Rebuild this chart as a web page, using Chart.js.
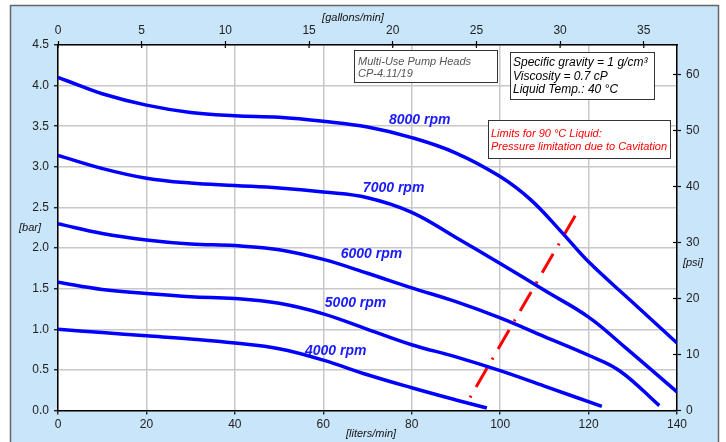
<!DOCTYPE html>
<html>
<head>
<meta charset="utf-8">
<script src="https://cdn.jsdelivr.net/npm/chart.js@4.4.1/dist/chart.umd.min.js"></script>
<style>
  html, body { margin: 0; padding: 0; background: #fff; }
  #wrap { width: 726px; height: 442px; }
</style>
</head>
<body>
<div id="wrap"><canvas id="pump" width="726" height="442"></canvas></div>
<script>
// flow in liters/min, head in bar
const flow8000 = [0, 2, 10, 20, 30, 40, 50, 60, 70, 80, 90, 100, 107, 114, 120, 130, 140];
const head8000 = [4.10, 4.06, 3.90, 3.76, 3.67, 3.63, 3.61, 3.56, 3.49, 3.36, 3.17, 2.88, 2.59, 2.19, 1.83, 1.33, 0.83];
const flow7000 = [0, 10, 20, 30, 40, 50, 60, 70, 80, 90, 100, 110, 120, 128, 140];
const head7000 = [3.14, 2.98, 2.86, 2.80, 2.77, 2.74, 2.69, 2.62, 2.44, 2.13, 1.81, 1.48, 1.15, 0.79, 0.23];
const flow6000 = [0, 10, 20, 30, 40, 50, 60, 70, 80, 90, 100, 110, 120, 127, 136];
const head6000 = [2.30, 2.18, 2.10, 2.05, 2.03, 1.98, 1.86, 1.69, 1.51, 1.34, 1.14, 0.91, 0.68, 0.49, 0.06];
const flow5000 = [0, 10, 20, 30, 40, 50, 60, 70, 80, 90, 100, 110, 123];
const head5000 = [1.58, 1.49, 1.44, 1.40, 1.38, 1.32, 1.19, 1.00, 0.81, 0.66, 0.49, 0.30, 0.05];
const flow4000 = [0, 10, 20, 30, 40, 50, 60, 70, 80, 90, 97];
const head4000 = [1.00, 0.96, 0.92, 0.88, 0.83, 0.76, 0.62, 0.44, 0.28, 0.13, 0.03];

// cavitation limit line for 90 °C liquid
const limitFlow = [93.2, 117.2];
const limitHead = [0.16, 2.42];

const speedLabels = ['8000 rpm', '7000 rpm', '6000 rpm', '5000 rpm', '4000 rpm'];
// where each speed label sits (flow, head)
const labelFlow = [81.8, 75.9, 70.9, 67.3, 62.8];
const labelHead = [3.57, 2.74, 1.92, 1.32, 0.725];

const literTicks = [0, 20, 40, 60, 80, 100, 120, 140];
const barTicks = [0, 0.5, 1, 1.5, 2, 2.5, 3, 3.5, 4, 4.5];
const gallonTicks = [0, 5, 10, 15, 20, 25, 30, 35];
const psiTicks = [0, 10, 20, 30, 40, 50, 60];

const L_PER_GAL = 3.78541;
const PSI_PER_BAR = 14.5038;

const pts = (xs, ys) => xs.map((x, i) => ({ x: x, y: ys[i] }));
const BLUE = '#0000ff';
const tickFont = { family: '"Liberation Sans", Arial, sans-serif', size: 12 };

function curve(xs, ys) {
  return {
    data: pts(xs, ys),
    borderColor: BLUE,
    borderWidth: 3.5,
    tension: 0.4,
    pointRadius: 0,
    fill: false,
    xAxisID: 'x',
    yAxisID: 'y'
  };
}

const frame = {
  id: 'frame',
  beforeDraw(chart) {
    const ctx = chart.ctx, a = chart.chartArea;
    ctx.save();
    ctx.fillStyle = '#fff';
    ctx.fillRect(0, 0, chart.width, chart.height);
    ctx.fillStyle = '#c9e5f9';
    ctx.fillRect(10, 5, 708, 450);
    ctx.strokeStyle = '#666';
    ctx.lineWidth = 1.5;
    ctx.strokeRect(10.5, 5.5, 708, 450);
    ctx.fillStyle = '#fff';
    ctx.fillRect(a.left, a.top, a.right - a.left, a.bottom - a.top);
    ctx.restore();
  },
  afterDraw(chart) {
    const ctx = chart.ctx, a = chart.chartArea;
    const x = chart.scales.x, y = chart.scales.y;
    const x2 = chart.scales.x2, y2 = chart.scales.y2;
    ctx.save();
    // inner halves of the top and right tick marks
    ctx.strokeStyle = '#000';
    ctx.lineWidth = 1.2;
    gallonTicks.forEach(v => {
      const px = x2.getPixelForValue(v);
      ctx.beginPath(); ctx.moveTo(px, a.top); ctx.lineTo(px, a.top + 3); ctx.stroke();
    });
    psiTicks.forEach(v => {
      const py = y2.getPixelForValue(v);
      ctx.beginPath(); ctx.moveTo(a.right, py); ctx.lineTo(a.right - 4, py); ctx.stroke();
    });

    // speed labels
    ctx.fillStyle = '#1a1aff';
    ctx.font = 'italic bold 14px "Liberation Sans", Arial, sans-serif';
    ctx.textAlign = 'center';
    ctx.textBaseline = 'middle';
    speedLabels.forEach((t, i) => {
      ctx.fillText(t, x.getPixelForValue(labelFlow[i]), y.getPixelForValue(labelHead[i]));
    });

    // axis titles
    ctx.fillStyle = '#111';
    ctx.font = 'italic 11px "Liberation Sans", Arial, sans-serif';
    ctx.fillText('[gallons/min]', 353, 18);
    ctx.fillText('[liters/min]', 371, 434);
    ctx.fillText('[bar]', 30, 228);
    ctx.fillText('[psi]', 693, 263);

    // note boxes
    function box(l, t, r, b) {
      ctx.fillStyle = '#777';
      ctx.fillRect(l + 1, t + 1, r - l, b - t);
      ctx.fillStyle = '#fff';
      ctx.fillRect(l, t, r - l, b - t);
      ctx.strokeStyle = '#333';
      ctx.lineWidth = 1;
      ctx.strokeRect(l + 0.5, t + 0.5, r - l, b - t);
    }
    ctx.textAlign = 'left';
    box(354, 50, 497, 82);
    ctx.fillStyle = '#555';
    ctx.font = 'italic 11px "Liberation Sans", Arial, sans-serif';
    ctx.fillText('Multi-Use Pump Heads', 358, 61.5);
    ctx.fillText('CP-4.11/19', 358, 73.5);

    box(510, 52, 654, 99);
    ctx.fillStyle = '#000';
    ctx.font = 'italic 12px "Liberation Sans", Arial, sans-serif';
    ctx.fillText('Specific gravity = 1 g/cm\u00b3', 513, 63);
    ctx.fillText('Viscosity = 0.7 cP', 513, 76.5);
    ctx.fillText('Liquid Temp.: 40 \u00b0C', 513, 90);

    box(488, 120, 670, 158);
    ctx.fillStyle = '#ff0000';
    ctx.font = 'italic 11px "Liberation Sans", Arial, sans-serif';
    ctx.fillText('Limits for 90 \u00b0C Liquid:', 491, 133.5);
    ctx.fillText('Pressure limitation due to Cavitation', 491, 147);
    ctx.restore();
  }
};

new Chart(document.getElementById('pump'), {
  type: 'line',
  data: {
    datasets: [
      curve(flow8000, head8000),
      curve(flow7000, head7000),
      curve(flow6000, head6000),
      curve(flow5000, head5000),
      curve(flow4000, head4000),
      {
        data: pts(limitFlow, limitHead),
        borderColor: '#ff0000',
        borderWidth: 3,
        borderDash: [2, 10, 22, 10],
        pointRadius: 0,
        fill: false,
        xAxisID: 'x',
        yAxisID: 'y'
      }
    ]
  },
  options: {
    responsive: false,
    animation: false,
    layout: { padding: 0 },
    plugins: { legend: { display: false }, tooltip: { enabled: false } },
    scales: {
      x: {
        type: 'linear', position: 'bottom', min: 0, max: 140,
        afterBuildTicks: s => { s.ticks = literTicks.map(v => ({ value: v })); },
        ticks: { color: '#222', font: tickFont, padding: 3, maxRotation: 0 },
        grid: { color: '#c8c8c8', lineWidth: 1.5, tickLength: 4, tickColor: '#000', tickWidth: 1.2 },
        border: { color: '#000', width: 1.5 },
        afterFit: s => { s.height = 31.5; }
      },
      x2: {
        type: 'linear', position: 'top', min: 0, max: 140 / L_PER_GAL,
        afterBuildTicks: s => { s.ticks = gallonTicks.map(v => ({ value: v })); },
        ticks: { color: '#222', font: tickFont, padding: 3, maxRotation: 0 },
        grid: { drawOnChartArea: false, tickLength: 4, tickColor: '#000', tickWidth: 1.2 },
        border: { color: '#000', width: 1.5 },
        afterFit: s => { s.height = 45; }
      },
      y: {
        type: 'linear', position: 'left', min: 0, max: 4.5,
        afterBuildTicks: s => { s.ticks = barTicks.map(v => ({ value: v })); },
        ticks: { color: '#222', font: tickFont, padding: 5, callback: v => v.toFixed(1) },
        grid: { color: '#c8c8c8', lineWidth: 1.5, tickLength: 4, tickColor: '#000', tickWidth: 1.2 },
        border: { color: '#000', width: 1.5 },
        afterFit: s => { s.width = 58; }
      },
      y2: {
        type: 'linear', position: 'right', min: 0, max: 4.5 * PSI_PER_BAR,
        afterBuildTicks: s => { s.ticks = psiTicks.map(v => ({ value: v })); },
        ticks: { color: '#222', font: tickFont, padding: 5 },
        grid: { drawOnChartArea: false, tickLength: 4, tickColor: '#000', tickWidth: 1.2 },
        border: { color: '#000', width: 1.5 },
        afterFit: s => { s.width = 49; }
      }
    }
  },
  plugins: [frame]
});
</script>
</body>
</html>
